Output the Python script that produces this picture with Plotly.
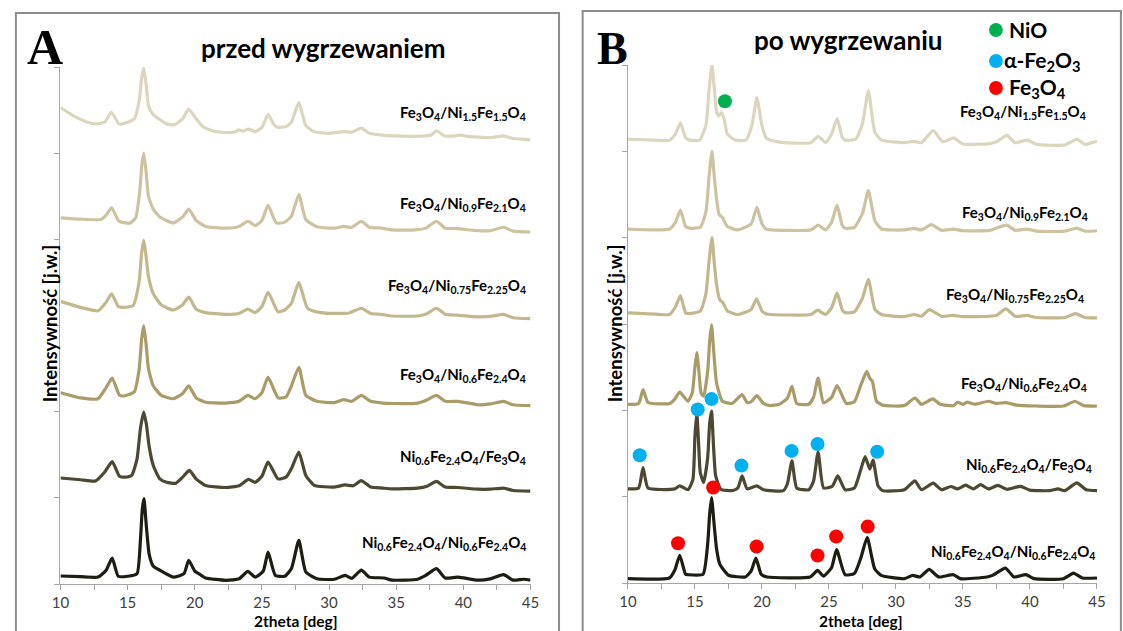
import plotly.graph_objects as go

# ---------------- DATA (2theta [deg], relative intensity within its band) ----------------
# Panel A: przed wygrzewaniem (top -> bottom)
A1 = [(10.0,0.53),(11.0,0.43),(12.0,0.36),(12.6,0.34),(13.3,0.36),(13.8,0.475),(14.35,0.34),(15.0,0.36),
      (15.5,0.40),(15.85,0.60),(16.05,0.88),(16.2,0.99),(16.38,0.80),(16.55,0.55),(16.9,0.45),(17.4,0.39),
      (17.9,0.34),(18.5,0.33),(19.1,0.40),(19.55,0.51),(20.1,0.40),(20.6,0.31),(21.3,0.26),(22.3,0.24),
      (23.0,0.245),(23.26,0.27),(23.6,0.255),(24.0,0.28),(24.5,0.25),(25.0,0.30),(25.46,0.45),(25.9,0.33),
      (26.2,0.30),(26.8,0.31),(27.2,0.36),(27.75,0.59),(28.27,0.32),(28.9,0.25),(29.9,0.23),(31.1,0.25),
      (31.7,0.245),(32.4,0.29),(33.0,0.23),(33.9,0.21),(34.7,0.20),(36.0,0.195),(37.2,0.20),(37.6,0.21),
      (38.0,0.26),(38.6,0.20),(39.4,0.20),(39.8,0.21),(40.3,0.195),(42.0,0.18),(43.0,0.20),(43.7,0.17),(45.0,0.155)]
A2 = [(10.0,0.25),(11.5,0.235),(13.0,0.23),(13.4,0.28),(13.81,0.366),(14.3,0.22),(14.5,0.20),(15.2,0.19),
      (15.6,0.25),(15.9,0.55),(16.05,0.85),(16.2,1.0),(16.38,0.78),(16.55,0.50),(16.91,0.35),(17.4,0.26),
      (18.4,0.19),(19.1,0.26),(19.55,0.35),(20.1,0.22),(20.8,0.15),(22.3,0.13),(23.3,0.15),(23.95,0.21),
      (24.5,0.16),(25.0,0.22),(25.46,0.393),(26.07,0.19),(26.7,0.20),(27.2,0.27),(27.75,0.52),(28.27,0.23),
      (29.1,0.145),(30.4,0.13),(31.1,0.15),(31.7,0.14),(32.4,0.21),(33.0,0.14),(33.9,0.13),(34.7,0.11),
      (36.4,0.11),(37.2,0.13),(38.0,0.21),(38.65,0.13),(39.5,0.125),(41.1,0.10),(42.0,0.10),(43.0,0.14),
      (43.7,0.095),(45.0,0.085)]
A3 = [(10.0,0.28),(11.5,0.21),(12.8,0.17),(13.4,0.27),(13.81,0.366),(14.3,0.22),(14.6,0.21),(15.4,0.23),
      (15.85,0.50),(16.05,0.85),(16.2,0.99),(16.38,0.80),(16.55,0.57),(16.91,0.37),(17.5,0.24),(18.4,0.18),
      (19.1,0.24),(19.55,0.33),(20.1,0.19),(20.8,0.15),(22.3,0.13),(23.3,0.14),(23.95,0.19),(24.5,0.15),
      (25.0,0.22),(25.46,0.385),(26.2,0.16),(26.7,0.18),(27.2,0.26),(27.75,0.50),(28.4,0.20),(29.4,0.15),
      (30.8,0.14),(31.5,0.145),(32.4,0.20),(33.1,0.14),(33.9,0.13),(34.7,0.11),(36.6,0.11),(37.2,0.13),
      (38.0,0.20),(38.65,0.13),(39.5,0.12),(41.1,0.10),(42.0,0.105),(43.0,0.13),(43.7,0.09),(45.0,0.08)]
A4 = [(10.0,0.22),(11.5,0.16),(12.8,0.15),(13.4,0.28),(13.85,0.39),(14.4,0.19),(14.8,0.185),(15.5,0.23),
      (15.85,0.48),(16.05,0.85),(16.2,1.0),(16.38,0.78),(16.55,0.50),(16.91,0.30),(17.5,0.19),(18.4,0.15),
      (19.1,0.21),(19.55,0.30),(20.1,0.16),(20.8,0.11),(22.3,0.10),(23.3,0.12),(23.95,0.19),(24.5,0.15),
      (25.0,0.22),(25.46,0.40),(26.2,0.16),(26.8,0.17),(27.2,0.30),(27.75,0.515),(28.27,0.19),(29.1,0.12),
      (30.4,0.105),(31.1,0.14),(31.7,0.12),(32.4,0.19),(33.1,0.12),(34.0,0.10),(34.7,0.095),(36.6,0.10),
      (37.2,0.13),(38.0,0.19),(38.65,0.12),(39.6,0.12),(41.1,0.08),(42.0,0.09),(43.0,0.12),(43.7,0.08),(45.0,0.07)]
A5 = [(10.0,0.23),(11.5,0.21),(12.6,0.195),(13.3,0.30),(13.85,0.42),(14.4,0.25),(14.8,0.24),(15.3,0.26),
      (15.7,0.45),(15.95,0.80),(16.2,0.995),(16.4,0.85),(16.6,0.60),(16.91,0.376),(17.4,0.22),(17.9,0.18),
      (18.6,0.17),(19.1,0.24),(19.6,0.318),(20.1,0.22),(20.8,0.144),(22.3,0.12),(23.3,0.14),(24.0,0.214),
      (24.5,0.18),(25.0,0.25),(25.46,0.415),(26.2,0.22),(26.8,0.24),(27.2,0.34),(27.75,0.53),(28.27,0.26),
      (28.9,0.145),(30.4,0.125),(31.2,0.15),(31.8,0.14),(32.4,0.20),(33.1,0.125),(34.0,0.113),(34.7,0.105),
      (36.6,0.113),(37.3,0.135),(38.0,0.19),(38.65,0.125),(39.6,0.12),(41.1,0.10),(42.0,0.10),(43.0,0.113),
      (43.7,0.085),(45.0,0.078)]
A6 = [(10.0,0.093),(11.5,0.085),(12.8,0.08),(13.4,0.16),(13.85,0.30),(14.3,0.09),(15.0,0.09),(15.7,0.12),
      (15.95,0.50),(16.1,0.88),(16.22,0.99),(16.38,0.70),(16.6,0.35),(16.9,0.21),(17.4,0.16),(18.4,0.08),
      (19.2,0.12),(19.55,0.275),(20.0,0.15),(20.3,0.12),(20.8,0.07),(22.3,0.043),(23.3,0.06),(23.95,0.147),
      (24.5,0.08),(25.1,0.15),(25.46,0.37),(26.0,0.10),(26.7,0.09),(27.2,0.18),(27.75,0.506),(28.27,0.14),
      (29.1,0.06),(30.4,0.055),(31.2,0.10),(31.7,0.065),(32.4,0.16),(33.0,0.08),(34.1,0.07),(34.7,0.045),
      (36.6,0.055),(37.2,0.10),(38.0,0.178),(38.65,0.07),(39.6,0.08),(41.1,0.045),(42.0,0.06),(43.0,0.108),
      (43.7,0.045),(44.5,0.055),(45.0,0.045)]

# Panel B: po wygrzewaniu (top -> bottom)
B1 = [(10.0,0.14),(12.0,0.13),(13.1,0.127),(13.55,0.20),(13.92,0.33),(14.3,0.16),(14.6,0.13),(15.34,0.13),
      (15.82,0.30),(16.05,0.70),(16.27,1.0),(16.45,0.72),(16.6,0.47),(16.76,0.41),(17.0,0.45),(17.2,0.36),
      (17.42,0.20),(18.03,0.13),(18.8,0.13),(19.25,0.30),(19.62,0.62),(20.0,0.30),(20.3,0.16),(20.6,0.13),
      (21.7,0.10),(23.65,0.10),(24.19,0.173),(24.76,0.10),(25.2,0.20),(25.61,0.38),(26.0,0.16),(26.23,0.13),
      (27.0,0.14),(27.5,0.32),(27.94,0.70),(28.43,0.22),(28.92,0.13),(30.63,0.10),(31.36,0.115),(31.9,0.10),
      (32.78,0.24),(33.5,0.11),(34.3,0.155),(35.0,0.085),(37.0,0.09),(37.5,0.11),(38.27,0.185),(38.9,0.10),
      (39.8,0.13),(40.5,0.08),(42.6,0.075),(43.5,0.14),(44.1,0.08),(44.6,0.10),(45.0,0.115)]
B2 = [(10.0,0.10),(13.1,0.10),(13.55,0.18),(13.92,0.32),(14.3,0.13),(14.6,0.11),(15.4,0.12),(15.82,0.30),
      (16.05,0.70),(16.27,1.0),(16.45,0.70),(16.61,0.45),(16.8,0.27),(17.05,0.235),(17.42,0.13),(18.2,0.09),
      (19.2,0.16),(19.62,0.35),(20.0,0.16),(20.3,0.10),(20.7,0.09),(23.65,0.09),(24.19,0.145),(24.76,0.09),
      (25.2,0.18),(25.61,0.378),(26.0,0.14),(26.23,0.11),(26.9,0.12),(27.5,0.28),(27.94,0.545),(28.43,0.195),
      (28.92,0.10),(30.63,0.09),(31.36,0.107),(31.9,0.09),(32.63,0.15),(33.4,0.085),(34.3,0.10),(35.0,0.08),
      (37.0,0.085),(37.3,0.10),(38.27,0.145),(38.9,0.085),(39.8,0.10),(40.5,0.075),(42.6,0.075),(43.5,0.11),
      (44.1,0.075),(45.0,0.08)]
B3 = [(10.0,0.13),(12.0,0.115),(13.1,0.11),(13.55,0.20),(13.92,0.33),(14.3,0.13),(14.6,0.12),(15.4,0.15),
      (15.82,0.35),(16.05,0.72),(16.27,1.0),(16.45,0.70),(16.61,0.46),(16.85,0.28),(17.1,0.245),(17.42,0.15),
      (18.2,0.11),(19.2,0.17),(19.6,0.29),(20.0,0.15),(20.3,0.12),(20.7,0.11),(23.65,0.11),(24.15,0.16),
      (24.76,0.11),(25.2,0.19),(25.61,0.36),(26.0,0.16),(26.23,0.13),(26.9,0.14),(27.5,0.30),(27.94,0.517),
      (28.43,0.17),(28.92,0.11),(30.63,0.085),(31.36,0.11),(31.9,0.09),(32.5,0.167),(33.4,0.09),(34.3,0.10),
      (35.0,0.085),(37.0,0.09),(37.5,0.10),(38.2,0.175),(38.9,0.09),(39.8,0.10),(40.5,0.075),(42.6,0.075),
      (43.4,0.12),(44.1,0.075),(45.0,0.07)]
B4 = [(10.0,0.07),(10.8,0.08),(11.13,0.24),(11.5,0.09),(13.13,0.08),(13.5,0.13),(13.87,0.21),(14.48,0.105),
      (14.8,0.20),(15.0,0.50),(15.14,0.67),(15.3,0.45),(15.46,0.20),(15.65,0.165),(15.95,0.45),(16.1,0.80),
      (16.24,0.99),(16.42,0.65),(16.61,0.32),(17.05,0.105),(17.78,0.08),(18.52,0.182),(18.9,0.09),(19.2,0.10),
      (19.62,0.17),(20.11,0.08),(20.6,0.055),(21.3,0.07),(21.9,0.14),(22.24,0.278),(22.6,0.08),(23.5,0.07),
      (23.85,0.15),(24.19,0.374),(24.6,0.085),(25.2,0.15),(25.61,0.286),(26.3,0.08),(26.9,0.10),(27.4,0.30),
      (27.82,0.451),(28.05,0.37),(28.24,0.336),(28.55,0.105),(29.0,0.06),(30.63,0.055),(31.41,0.143),(31.9,0.07),
      (32.76,0.132),(33.3,0.07),(34.3,0.055),(34.6,0.094),(35.0,0.07),(35.3,0.094),(35.9,0.07),(36.9,0.105),
      (37.5,0.08),(38.2,0.09),(39.0,0.06),(40.5,0.05),(42.5,0.05),(43.36,0.105),(44.0,0.055),(45.0,0.05)]
B5 = [(10.0,0.09),(10.8,0.10),(11.13,0.337),(11.5,0.10),(13.5,0.09),(13.87,0.126),(14.48,0.08),(14.85,0.20),
      (15.0,0.70),(15.14,0.97),(15.28,0.60),(15.4,0.28),(15.65,0.164),(15.95,0.45),(16.1,0.85),(16.24,0.99),
      (16.4,0.55),(16.55,0.24),(16.93,0.087),(17.8,0.07),(18.2,0.10),(18.52,0.24),(18.9,0.09),(19.62,0.126),
      (20.11,0.08),(21.6,0.07),(21.9,0.15),(22.24,0.414),(22.6,0.10),(23.5,0.08),(23.85,0.18),(24.19,0.517),
      (24.6,0.10),(25.25,0.12),(25.66,0.24),(26.2,0.08),(26.9,0.10),(27.35,0.30),(27.7,0.464),(28.05,0.318),
      (28.29,0.425),(28.66,0.126),(29.0,0.07),(30.63,0.08),(31.41,0.183),(31.9,0.08),(32.78,0.156),(33.4,0.08),
      (34.1,0.118),(34.6,0.09),(35.2,0.133),(35.8,0.09),(36.3,0.14),(36.9,0.09),(37.6,0.13),(38.3,0.085),
      (39.3,0.12),(40.0,0.075),(41.5,0.07),(42.1,0.09),(42.6,0.07),(43.5,0.16),(44.2,0.08),(45.0,0.07)]
B6 = [(10.0,0.05),(13.1,0.058),(13.5,0.15),(13.87,0.32),(14.3,0.10),(14.48,0.096),(15.6,0.10),(15.95,0.45),
      (16.1,0.80),(16.24,0.99),(16.42,0.70),(16.61,0.40),(16.85,0.22),(17.08,0.165),(17.5,0.09),(18.76,0.07),
      (19.2,0.14),(19.55,0.288),(19.95,0.10),(20.4,0.07),(23.6,0.07),(24.15,0.146),(24.6,0.08),(25.2,0.18),
      (25.57,0.388),(26.2,0.096),(26.9,0.11),(27.4,0.30),(27.85,0.53),(28.41,0.165),(28.9,0.088),(30.63,0.05),
      (31.25,0.088),(31.8,0.07),(32.47,0.157),(33.2,0.07),(34.3,0.096),(34.8,0.05),(36.8,0.07),(37.2,0.088),
      (38.17,0.173),(38.8,0.07),(39.7,0.096),(40.3,0.05),(42.5,0.05),(43.24,0.115),(43.9,0.058),(45.0,0.058)]

labels_A = ["Fe<sub>3</sub>O<sub>4</sub>/Ni<sub>1.5</sub>Fe<sub>1.5</sub>O<sub>4</sub>",
            "Fe<sub>3</sub>O<sub>4</sub>/Ni<sub>0.9</sub>Fe<sub>2.1</sub>O<sub>4</sub>",
            "Fe<sub>3</sub>O<sub>4</sub>/Ni<sub>0.75</sub>Fe<sub>2.25</sub>O<sub>4</sub>",
            "Fe<sub>3</sub>O<sub>4</sub>/Ni<sub>0.6</sub>Fe<sub>2.4</sub>O<sub>4</sub>",
            "Ni<sub>0.6</sub>Fe<sub>2.4</sub>O<sub>4</sub>/Fe<sub>3</sub>O<sub>4</sub>",
            "Ni<sub>0.6</sub>Fe<sub>2.4</sub>O<sub>4</sub>/Ni<sub>0.6</sub>Fe<sub>2.4</sub>O<sub>4</sub>"]
labels_B = labels_A

# phase markers on panel B (2theta, intensity in stacked units)
nio_x = [17.24]
nio_y = [5.58]
hem_x = [10.88, 15.21, 16.24, 18.47, 22.21, 24.15, 28.6]
hem_y = [1.48, 2.01, 2.13, 1.36, 1.53, 1.61, 1.52]
mag_x = [16.36, 13.74, 19.6, 24.15, 25.54, 27.89]
mag_y = [1.106, 0.461, 0.423, 0.319, 0.538, 0.653]

# ---------------- STYLE ----------------
W, H = 1123, 631
colors = ['#ddd6bf', '#cdc3a0', '#c3b88d', '#a99c68', '#4d4832', '#1e1d12']
offsets = [5, 4, 3, 2, 1, 0]
GREEN, BLUE, RED = '#00b050', '#00b0f0', '#ff0000'
FONT = 'Lato'

def px(x):
    return x / W

def py(y):
    return 1 - y / H

fig = go.Figure()

for panel, curves, xa, ya in (('A', [A1, A2, A3, A4, A5, A6], 'x', 'y'),
                              ('B', [B1, B2, B3, B4, B5, B6], 'x2', 'y2')):
    for c, off, col in zip(curves, offsets, colors):
        fig.add_trace(go.Scatter(
            x=[p[0] for p in c], y=[p[1] + off for p in c],
            mode='lines', line=dict(color=col, width=3.2, shape='spline', smoothing=0.5),
            xaxis=xa, yaxis=ya, showlegend=False, hoverinfo='skip', cliponaxis=False))

for xs, ys, col in ((nio_x, nio_y, GREEN), (hem_x, hem_y, BLUE), (mag_x, mag_y, RED)):
    fig.add_trace(go.Scatter(x=xs, y=ys, mode='markers', marker=dict(color=col, size=14),
                             xaxis='x2', yaxis='y2', showlegend=False, hoverinfo='skip',
                             cliponaxis=False))

axis_common = dict(range=[10, 45], dtick=5, tick0=10, showline=True, linecolor='#a6a6a6', linewidth=1,
                   ticks='outside', ticklen=5, tickcolor='#a6a6a6', showgrid=False, zeroline=False,
                   ticklabelstandoff=0,
                   tickfont=dict(family=FONT, size=15, color='#404040'),
                   minor=dict(dtick=2.5, ticks='outside', ticklen=5, tickcolor='#a6a6a6'))
yaxis_common = dict(range=[0, 6], dtick=1, tick0=0, showline=True, linecolor='#a6a6a6', linewidth=1,
                    ticks='outside', ticklen=5, tickcolor='#a6a6a6', showgrid=False, zeroline=False,
                    showticklabels=False)

fig.update_layout(
    width=W, height=H, margin=dict(l=0, r=0, t=0, b=0),
    paper_bgcolor='white', plot_bgcolor='white', showlegend=False,
    xaxis=dict(domain=[px(52.3), px(530)], anchor='y', **axis_common),
    yaxis=dict(domain=[py(584), py(67)], anchor='x', **yaxis_common),
    xaxis2=dict(domain=[px(629), px(1105.7)], anchor='y2', **axis_common),
    yaxis2=dict(domain=[py(583), py(65)], anchor='x2', **yaxis_common),
)

shapes = [
    dict(type='rect', xref='paper', yref='paper', x0=px(7), x1=px(559), y0=py(645), y1=py(13),
         line=dict(color='#8c8c8c', width=2), layer='below'),
    dict(type='rect', xref='paper', yref='paper', x0=px(583), x1=px(1130), y0=py(645), y1=py(11),
         line=dict(color='#8c8c8c', width=2), layer='below'),
]
# legend glyphs
for cy, col in ((30, GREEN), (61, BLUE), (88, RED)):
    shapes.append(dict(type='circle', xref='paper', yref='paper', x0=px(996), x1=px(1010),
                       y0=py(cy + 7), y1=py(cy - 7), fillcolor=col, line=dict(width=0)))
fig.update_layout(shapes=shapes)

ann = []
def text(x, y, s, size, bold=False, xanchor='center', yanchor='middle', family=FONT, angle=0, color='black'):
    ann.append(dict(xref='paper', yref='paper', x=px(x), y=py(y), text=s, showarrow=False,
                    xanchor=xanchor, yanchor=yanchor, textangle=angle, borderpad=0,
                    font=dict(family=family, size=size, color=color, weight='bold' if bold else 'normal')))

# panel letters and titles
text(37, 47, 'A', 50, bold=True, family='Liberation Serif')
text(613, 48, 'B', 46, bold=True, family='Liberation Serif')
text(320, 48, 'przed wygrzewaniem', 26, bold=True)
text(853, 40, 'po wygrzewaniu', 26, bold=True)
# axis titles
for xc in (292, 866):
    text(xc, 631, '2theta [deg]', 15.5, bold=True, yanchor='bottom')
text(42, 323, 'Intensywność [j.w.]', 18.5, bold=True, angle=-90)
text(616, 323, 'Intensywność [j.w.]', 18.5, bold=True, angle=-90)
# legend texts
text(1015, 30, 'NiO', 21, bold=True, xanchor='left')
text(1010, 61, 'α-Fe<sub>2</sub>O<sub>3</sub>', 21, bold=True, xanchor='left')
text(1015, 88, 'Fe<sub>3</sub>O<sub>4</sub>', 21, bold=True, xanchor='left')
# curve labels (right edge px, centre y px)
posA = [(526, 113), (526, 204), (526, 286), (526, 375), (526, 457), (526, 543)]
posB = [(1096, 112), (1098, 213), (1094, 295), (1097, 384), (1102, 465), (1105, 552)]
for lab, (x, y) in zip(labels_A, posA):
    text(x, y, lab, 15, bold=True, xanchor='right')
for lab, (x, y) in zip(labels_B, posB):
    text(x, y, lab, 15, bold=True, xanchor='right')
fig.update_layout(annotations=ann)

fig.write_html('out.html')
